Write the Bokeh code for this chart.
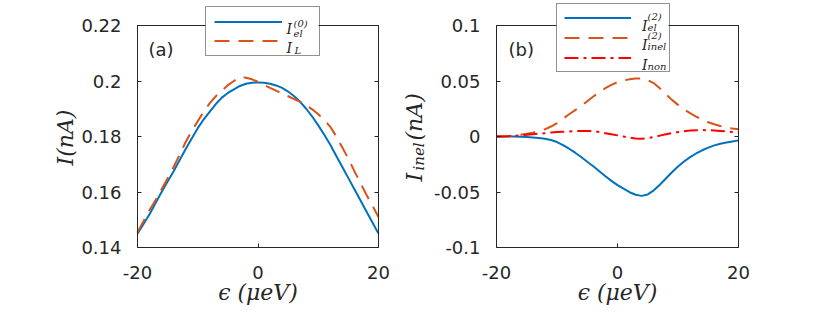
from math import pi
from bokeh.plotting import figure
from bokeh.models import (Range1d, FixedTicker, LinearAxis, Legend, LegendItem, Label,
                          BoxAnnotation)
from bokeh.layouts import row
from bokeh.core.properties import value
from bokeh.embed import file_html
from bokeh.resources import INLINE

# ---------------- data ----------------
eps = [-20, -19, -18, -17, -16, -15, -14, -13, -12, -11, -10, -9, -8, -7, -6, -5, -4, -3, -2, -1,
       0, 1, 2, 3, 4, 5, 6, 7, 8, 9, 10, 11, 12, 13, 14, 15, 16, 17, 18, 19, 20]

# panel (a)
I_el0 = [0.145, 0.1485, 0.152, 0.156, 0.160, 0.1638, 0.1675, 0.1715, 0.1755, 0.1793, 0.183,
         0.1862, 0.189, 0.1917, 0.194, 0.1957, 0.197, 0.1982, 0.199, 0.1994, 0.1995,
         0.1994, 0.199, 0.1984, 0.1975, 0.1962, 0.1945, 0.1925, 0.190, 0.1872, 0.184,
         0.1806, 0.177, 0.173, 0.169, 0.165, 0.161, 0.157, 0.153, 0.149, 0.145]
I_L = [0.1455, 0.1495, 0.1535, 0.157, 0.161, 0.165, 0.169, 0.1735, 0.178, 0.182, 0.1855,
       0.189, 0.192, 0.1945, 0.1965, 0.1985, 0.200, 0.2015, 0.2012, 0.2006, 0.1997,
       0.1986, 0.1975, 0.1965, 0.1955, 0.1945, 0.1935, 0.1925, 0.1912, 0.1898, 0.188,
       0.186, 0.1835, 0.180, 0.176, 0.172, 0.1675, 0.1633, 0.159, 0.155, 0.151]

# panel (b)
I_el2 = [0.0, 0.0, 0.0, -0.0001, -0.0003, -0.0005, -0.0008, -0.0013, -0.002, -0.0032, -0.005,
         -0.0077, -0.011, -0.0146, -0.0185, -0.0227, -0.0268, -0.0313, -0.0358, -0.040, -0.0438,
         -0.047, -0.0502, -0.0525, -0.0535, -0.0522, -0.0485, -0.0435, -0.0378, -0.0322, -0.027,
         -0.0225, -0.0186, -0.0153, -0.0124, -0.010, -0.008, -0.0066, -0.0055, -0.0045, -0.0035]
I_inel2 = [0.0, 0.0002, 0.0005, 0.001, 0.0015, 0.0024, 0.0035, 0.0048, 0.0065, 0.009, 0.012,
           0.016, 0.020, 0.0238, 0.0275, 0.0318, 0.036, 0.040, 0.0435, 0.0465, 0.049,
           0.0505, 0.0515, 0.0522, 0.0524, 0.0508, 0.048, 0.0435, 0.038, 0.033, 0.0285,
           0.0245, 0.021, 0.018, 0.0152, 0.0128, 0.011, 0.0094, 0.008, 0.0072, 0.0065]
I_non = [0.0, 0.0001, 0.0003, 0.0006, 0.001, 0.0015, 0.002, 0.0025, 0.003, 0.0035, 0.004,
         0.0043, 0.0045, 0.0048, 0.005, 0.005, 0.0048, 0.004, 0.003, 0.002, 0.001,
         0.0, -0.001, -0.0017, -0.002, -0.0015, -0.0005, 0.0008, 0.002, 0.003, 0.004,
         0.0048, 0.0055, 0.0057, 0.0058, 0.0057, 0.0055, 0.005, 0.0045, 0.004, 0.0035]

x_ticks = [-20, 0, 20]
x_tick_labels = ["-20", "0", "20"]
ya_ticks = [0.14, 0.16, 0.18, 0.2, 0.22]
ya_tick_labels = ["0.14", "0.16", "0.18", "0.2", "0.22"]
yb_ticks = [-0.1, -0.05, 0, 0.05, 0.1]
yb_tick_labels = ["-0.1", "-0.05", "0", "0.05", "0.1"]

# ---------------- style / geometry ----------------
BLUE = "#0072BD"
ORANGE = "#D95319"
RED = "#FF0000"
DARK = "#262626"
TICK_FONT = "DejaVu Sans"
MATH_FONT = "DejaVu Serif"

# axes boxes in page pixels: left, right, top, bottom, x0, x1, y0, y1
FA = (137, 378, 25, 247, -20, 20, 0.14, 0.22)
FB = (496, 738, 25, 247, -20, 20, -0.1, 0.1)
# canvas extents in page pixels: left, right, top, bottom
CA = (0, 390, 0, 314)
CB = (390, 809, 0, 314)


def to_data(F, px, py):
    l, r, t, b, x0, x1, y0, y1 = F
    return x0 + (px - l) / (r - l) * (x1 - x0), y1 - (py - t) / (b - t) * (y1 - y0)


def make_fig(F, C, yticks, ylabels):
    l, r, t, b, x0, x1, y0, y1 = F
    cl, cr, ct, cb = C
    xs, ye = to_data(F, cl, ct)
    xe, ys = to_data(F, cr, cb)
    p = figure(width=cr - cl, height=cb - ct,
               min_border_left=0, min_border_right=0, min_border_top=0, min_border_bottom=0,
               x_range=Range1d(xs, xe), y_range=Range1d(ys, ye),
               x_axis_location=None, y_axis_location=None,
               output_backend="svg", toolbar_location=None, tools="")
    p.xgrid.visible = False
    p.ygrid.visible = False
    p.outline_line_color = None
    p.background_fill_color = "white"
    p.border_fill_color = "white"

    axes = {}
    specs = (("below", x_ticks, x_tick_labels, y0, (x0, x1)),
             ("above", x_ticks, None, y1, (x0, x1)),
             ("left", yticks, ylabels, x0, (y0, y1)),
             ("right", yticks, None, x1, (y0, y1)))
    for loc, ticks, labels, fixed, bounds in specs:
        if labels is None:
            overrides = {tk: "" for tk in ticks}
        else:
            overrides = {tk: lb for tk, lb in zip(ticks, labels)}
        ax = LinearAxis(fixed_location=fixed, bounds=bounds,
                        ticker=FixedTicker(ticks=ticks),
                        major_label_overrides=overrides,
                        major_label_text_font=TICK_FONT,
                        major_label_text_font_size="18px",
                        major_label_text_color=DARK,
                        axis_line_color=DARK, axis_line_width=1,
                        major_tick_line_color=DARK,
                        major_tick_in=4, major_tick_out=0,
                        minor_tick_line_color=None)
        p.add_layout(ax, loc)
        axes[loc] = ax
    axes["below"].major_label_standoff = 18
    axes["left"].major_label_standoff = 16
    axes["above"].major_label_standoff = 0
    axes["right"].major_label_standoff = 0

    xa = axes["below"]
    xa.axis_label = "ϵ (μeV)"
    xa.axis_label_text_font = MATH_FONT
    xa.axis_label_text_font_style = "italic"
    xa.axis_label_text_font_size = "22px"
    xa.axis_label_text_color = DARK
    xa.axis_label_standoff = -2
    return p


def add_text(p, F, px, py, txt, size, font=MATH_FONT, style="italic", align="left",
             baseline="alphabetic", angle=0.0):
    x, y = to_data(F, px, py)
    p.add_layout(Label(x=x, y=y, text=txt, text_font=font, text_font_style=style,
                       text_font_size=size, text_color=DARK, text_align=align,
                       text_baseline=baseline, angle=angle, level="overlay"))


def add_legend(p, F, C, renderers, box, padding, spacing, glyph_w, label_w):
    # box: left, right, top, bottom of the legend frame in page pixels
    cl, cr, ct, cb = C
    bl, br, bt, bb = box
    x_left, y_top = to_data(F, bl, bt)
    x_right, y_bot = to_data(F, br, bb)
    p.add_layout(BoxAnnotation(left=x_left, right=x_right, top=y_top, bottom=y_bot,
                               fill_color="white", fill_alpha=1.0, line_color=None,
                               level="annotation"))
    leg = Legend(items=[LegendItem(label=value(" "), renderers=[r]) for r in renderers],
                 location=(bl - cl, cb - bb), margin=0,
                 padding=padding, spacing=spacing,
                 glyph_width=glyph_w, glyph_height=13, label_height=13, label_width=label_w,
                 label_standoff=3, label_text_font_size="8px",
                 border_line_color=DARK, border_line_width=1,
                 background_fill_alpha=0.0)
    p.add_layout(leg)


# ---------------- panel (a) ----------------
pa = make_fig(FA, CA, ya_ticks, ya_tick_labels)
ra1 = pa.line(eps, I_el0, line_color=BLUE, line_width=2)
ra2 = pa.line(eps, I_L, line_color=ORANGE, line_width=2, line_dash="15 9")
add_legend(pa, FA, CA, [ra1, ra2], (205, 318, 8, 56), 8, 6, 68, 26)

add_text(pa, FA, 286, 28.5, "I", "14px")
add_text(pa, FA, 293, 22.5, "(0)", "10px")
add_text(pa, FA, 293, 32.5, "el", "10px")
add_text(pa, FA, 286, 47, "I", "14px")
add_text(pa, FA, 294, 50, "L", "10px")

add_text(pa, FA, 148, 49, "(a)", "18px", font=TICK_FONT, style="normal", baseline="middle")
add_text(pa, FA, 65, 137, "I(nA)", "22px", align="center", angle=pi / 2)

# ---------------- panel (b) ----------------
pb = make_fig(FB, CB, yb_ticks, yb_tick_labels)
rb1 = pb.line(eps, I_el2, line_color=BLUE, line_width=2)
rb2 = pb.line(eps, I_inel2, line_color=ORANGE, line_width=2, line_dash="15 9")
rb3 = pb.line(eps, I_non, line_color=RED, line_width=2, line_dash="14 5 3 5")
add_legend(pb, FB, CB, [rb1, rb2, rb3], (556, 668, 5, 72), 7, 7, 67, 28)

add_text(pb, FB, 641.5, 25, "I", "14px")
add_text(pb, FB, 647, 16, "(2)", "10px")
add_text(pb, FB, 647, 27, "el", "10px")
add_text(pb, FB, 641.5, 44.5, "I", "14px")
add_text(pb, FB, 647, 34.5, "(2)", "10px")
add_text(pb, FB, 647, 46, "inel", "10px")
add_text(pb, FB, 641.5, 64, "I", "14px")
add_text(pb, FB, 647, 66, "non", "10px")

add_text(pb, FB, 508, 49, "(b)", "18px", font=TICK_FONT, style="normal", baseline="middle")
add_text(pb, FB, 414, 181, "I", "22px", angle=pi / 2)
add_text(pb, FB, 418, 170, "inel", "15px", angle=pi / 2)
add_text(pb, FB, 414, 140, "(nA)", "22px", angle=pi / 2)

layout = row(pa, pb, spacing=0)
open("out.html", "w").write(file_html(layout, INLINE))
